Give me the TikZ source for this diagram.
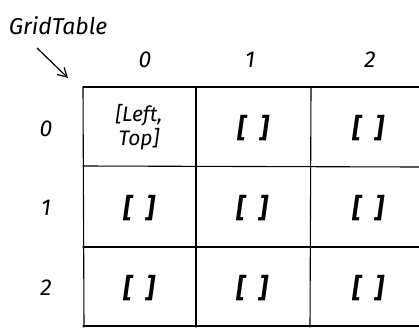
\documentclass[tikz,border=0pt]{standalone}
\usepackage{fontspec}
\setmainfont{Fira Sans}
\usetikzlibrary{arrows.meta}
\begin{document}
\begin{tikzpicture}[x=1pt,y=-1pt,
  gridline/.style={line width=1.1pt, line cap=round},
  lbl/.style={font=\itshape\fontsize{23}{24}\selectfont, inner sep=0pt},
  cell/.style={font=\bfseries\itshape\fontsize{27}{28}\selectfont, inner sep=0pt},
  celltxt/.style={font=\itshape\fontsize{21}{24}\selectfont, inner sep=0pt, align=center}]
\useasboundingbox (0,0) rectangle (419,327);
% grid lines
\draw[gridline] (83,87) -- (419,87);
\draw[gridline] (83,166) -- (419,167);
\draw[gridline] (83,247) -- (419,247);
\draw[gridline] (83,326) -- (419,326);
\draw[gridline] (83,87) -- (84,327);
\draw[gridline] (196,87) -- (196,327);
\draw[gridline] (311,87) -- (310,327);
% title and arrow
\node[lbl] (title) at (58,26) {GridTable};
\coordinate (as) at (37,48);
\coordinate (ae) at (68,78);
\draw[line width=1.2pt, -{Straight Barb[length=9pt,width=10pt]}] (as) -- (ae);
% headers
\node[lbl] (c0) at (145,60) {0};
\node[lbl] (c1) at (250,60) {1};
\node[lbl] (c2) at (370,60) {2};
\node[lbl] (r0) at (46,129) {0};
\node[lbl] (r1) at (46,208) {1};
\node[lbl] (r2) at (46,288) {2};
% cells
\node[celltxt] (n00) at (139,127) {[Left,\\Top]};
\node[cell] (n01) at (253,128) {[\kern14pt]};
\node[cell] (n02) at (368,128) {[\kern14pt]};
\node[cell] (n10) at (139,208) {[\kern14pt]};
\node[cell] (n11) at (252,208) {[\kern14pt]};
\node[cell] (n12) at (368,208) {[\kern14pt]};
\node[cell] (n20) at (139,288) {[\kern14pt]};
\node[cell] (n21) at (252,288) {[\kern14pt]};
\node[cell] (n22) at (368,288) {[\kern14pt]};
\end{tikzpicture}
\end{document}
